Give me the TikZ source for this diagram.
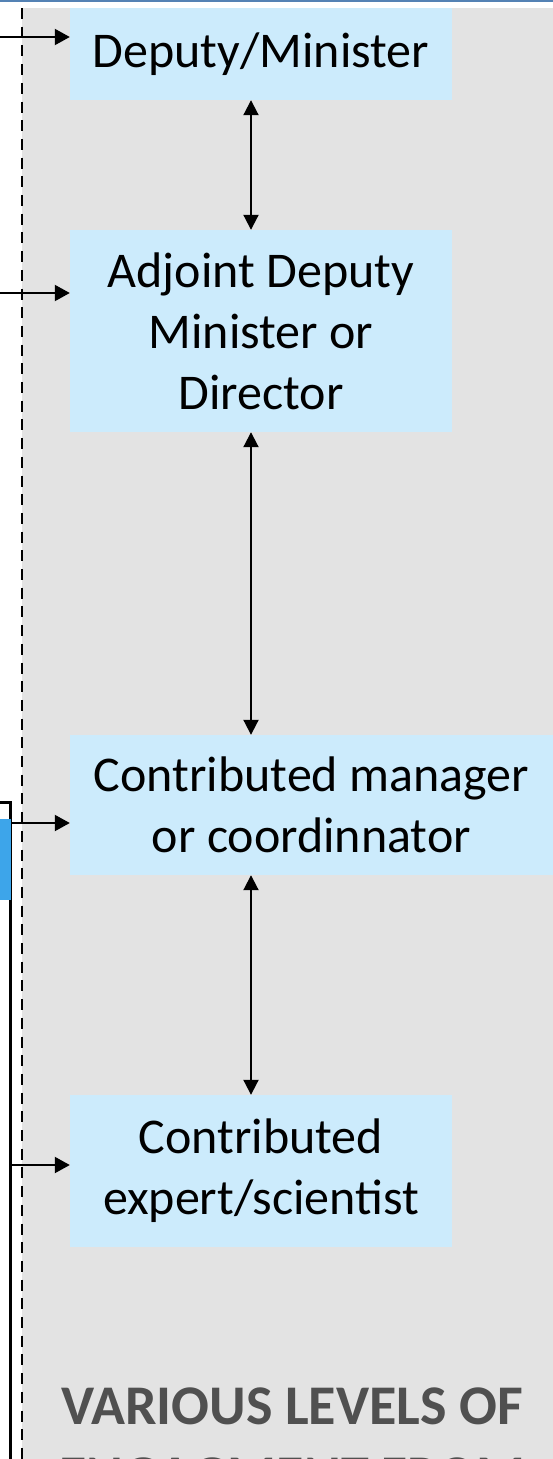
\documentclass[tikz,border=0pt]{standalone}
\usepackage{fontspec}
\setmainfont{Carlito}
\usetikzlibrary{arrows.meta}
\definecolor{levelblue}{RGB}{204,235,252}
\definecolor{panelgray}{RGB}{227,227,227}
\definecolor{barblue}{RGB}{61,165,234}
\definecolor{topline}{RGB}{84,130,180}
\definecolor{titlegray}{RGB}{80,80,80}

\begin{document}
\begin{tikzpicture}[x=1pt,y=-1pt,
  every node/.style={font=\fontsize{50}{61}\selectfont},
  level/.style={fill=levelblue,inner sep=0pt,align=center,minimum width=382pt},
  link/.style={line width=2pt,{Triangle[length=15pt,width=15pt]}-{Triangle[length=15pt,width=15pt]}},
  feed/.style={line width=2pt,-{Triangle[length=15pt,width=16pt]}}]
\useasboundingbox (0,0) rectangle (553,1459);
\clip (0,0) rectangle (553,1459);
\fill[panelgray] (22,8) rectangle (553,1459);
\draw[topline,line width=1.5pt] (0,0.75)--(553,0.75);
\draw[line width=2.4pt,dash pattern=on 11pt off 7.7pt] (22,8)--(22,1459);
\draw[line width=3pt] (0,802)--(10,802)--(10,1459);
\fill[barblue] (0,819) rectangle (11,900);
\node[level,minimum height=92pt] (minister) at (261,54) {Deputy/Minister};
\node[level,minimum height=202pt] (adjoint) at (261,331) {Adjoint Deputy\\Minister or\\Director};
\node[level,minimum width=483pt,minimum height=140pt] (manager) at (311.5,805) {Contributed manager\\or coordinnator};
\node[level,minimum height=152pt] (expert) at (261,1171) {Contributed\\expert/scientist};
\coordinate (axis) at (251,0);
\draw[link] (minister.south -| axis)--(adjoint.north -| axis);
\draw[link] (adjoint.south -| axis)--(manager.north -| axis);
\draw[link] (manager.south -| axis)--(expert.north -| axis);
\coordinate (in1) at (0,37);
\coordinate (in2) at (0,293);
\coordinate (in3) at (11,823);
\coordinate (in4) at (10,1165);
\draw[feed] (in1)--(in1 -| minister.west);
\draw[feed] (in2)--(in2 -| adjoint.west);
\draw[feed] (in3)--(in3 -| manager.west);
\draw[feed] (in4)--(in4 -| expert.west);
\node[font=\fontsize{56}{70}\selectfont\bfseries,text=titlegray,align=center,anchor=north,inner sep=0pt] (title) at (292,1388) {VARIOUS LEVELS OF\\ENGAGMENT FROM};
\end{tikzpicture}
\end{document}
